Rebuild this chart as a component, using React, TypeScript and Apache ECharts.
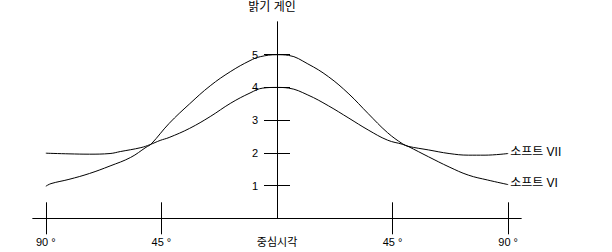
import React, { useEffect, useRef } from "react";
import * as echarts from "echarts";

// x: viewing angle in degrees (negative = left side), y: brightness gain
const softVI: [number, number][] = [
  [-90, 0.98], [-88, 1.06], [-81, 1.19], [-73, 1.37], [-65, 1.6], [-57, 1.86],
  [-51, 2.17], [-49, 2.27], [-42, 2.9], [-34, 3.5], [-26, 4.05], [-18, 4.49],
  [-10.5, 4.82], [-6.5, 4.94], [0, 5.0], [4.5, 4.98], [12, 4.72], [20, 4.33],
  [28, 3.8], [35.5, 3.2], [43, 2.62], [49, 2.27], [51, 2.2], [59, 1.88],
  [67, 1.57], [74.5, 1.32], [82, 1.17], [90, 1.03],
];
const softVII: [number, number][] = [
  [-90, 1.99], [-81, 1.97], [-73, 1.96], [-65, 1.98], [-61, 2.04], [-53, 2.16],
  [-49.5, 2.25], [-45.5, 2.38], [-42, 2.47], [-34, 2.75], [-26, 3.11], [-18, 3.52],
  [-10.5, 3.83], [-5.5, 3.98], [0, 4.0], [4.5, 3.98], [12, 3.77], [20, 3.44],
  [28, 3.06], [35.5, 2.7], [43, 2.39], [49, 2.26], [51, 2.2], [59, 2.09],
  [67, 1.98], [74.5, 1.93], [81, 1.93], [90, 1.98],
];
const xTickValues = [-90, -45, 45, 90];
const xLabelValues = [-90, -45, 0, 45, 90];
const xLabelTexts: Record<string, string> = {
  "-90": "90 °", "-45": "45 °", "0": "중심시각", "45": "45 °", "90": "90 °",
};
const yTickValues = [1, 2, 3, 4, 5];
const yAxisName = "밝기 게인";
const seriesNames = ["소프트 VI", "소프트 VII"];

const FONT = "Liberation Sans, Noto Sans CJK KR, sans-serif";

export default function App() {
  const ref = useRef<HTMLDivElement>(null);
  useEffect(() => {
    const chart = echarts.init(ref.current!, null, { renderer: "svg" });
    const black = "#000";
    const xBase = {
      type: "value" as const,
      min: -95,
      max: 95,
      position: "bottom" as const,
      splitLine: { show: false },
      axisLine: { show: true, onZero: false, lineStyle: { color: black, width: 1 } },
    };
    const yBase = {
      type: "value" as const,
      min: 0,
      max: 6,
      position: "left" as const,
      offset: -244,
      splitLine: { show: false },
      axisLine: { show: true, onZero: false, lineStyle: { color: black, width: 1 } },
    };
    chart.setOption({
      animation: false,
      backgroundColor: "#fff",
      grid: { left: 33, right: 91, top: 22, bottom: 33.7, containLabel: false },
      xAxis: [
        {
          ...xBase,
          axisTick: { show: true, inside: false, length: 16, customValues: xTickValues, lineStyle: { color: black } },
          axisLabel: {
            show: true,
            customValues: xLabelValues,
            margin: 18,
            color: black,
            fontSize: 11,
            fontFamily: FONT,
            formatter: (v: number) => xLabelTexts[String(v)] ?? "",
          },
        },
        {
          ...xBase,
          axisTick: { show: true, inside: true, length: 16, customValues: xTickValues, lineStyle: { color: black } },
          axisLabel: { show: false },
        },
      ],
      yAxis: [
        {
          ...yBase,
          name: yAxisName,
          nameLocation: "end",
          nameGap: 9,
          nameTextStyle: { color: black, fontSize: 12, fontFamily: FONT, padding: [0, 10, 0, 0] },
          axisTick: { show: true, inside: false, length: 13, customValues: yTickValues, lineStyle: { color: black } },
          axisLabel: { show: true, customValues: yTickValues, margin: 19, color: black, fontSize: 11, fontFamily: FONT },
        },
        {
          ...yBase,
          axisTick: { show: true, inside: true, length: 13, customValues: yTickValues, lineStyle: { color: black } },
          axisLabel: { show: false },
        },
      ],
      series: [
        {
          name: seriesNames[0],
          type: "line",
          data: softVI,
          smooth: 0.4,
          showSymbol: false,
          symbol: "none",
          lineStyle: { color: black, width: 1 },
          endLabel: { show: true, formatter: seriesNames[0], color: black, fontSize: 12, fontFamily: FONT, distance: 2, offset: [0, -2] },
        },
        {
          name: seriesNames[1],
          type: "line",
          data: softVII,
          smooth: 0.4,
          showSymbol: false,
          symbol: "none",
          lineStyle: { color: black, width: 1 },
          endLabel: { show: true, formatter: seriesNames[1], color: black, fontSize: 12, fontFamily: FONT, distance: 2, offset: [0, -2] },
        },
      ],
    });
    return () => chart.dispose();
  }, []);
  return <div ref={ref} style={{ width: 612, height: 252, position: "absolute", left: 0, top: 0 }} />;
}
